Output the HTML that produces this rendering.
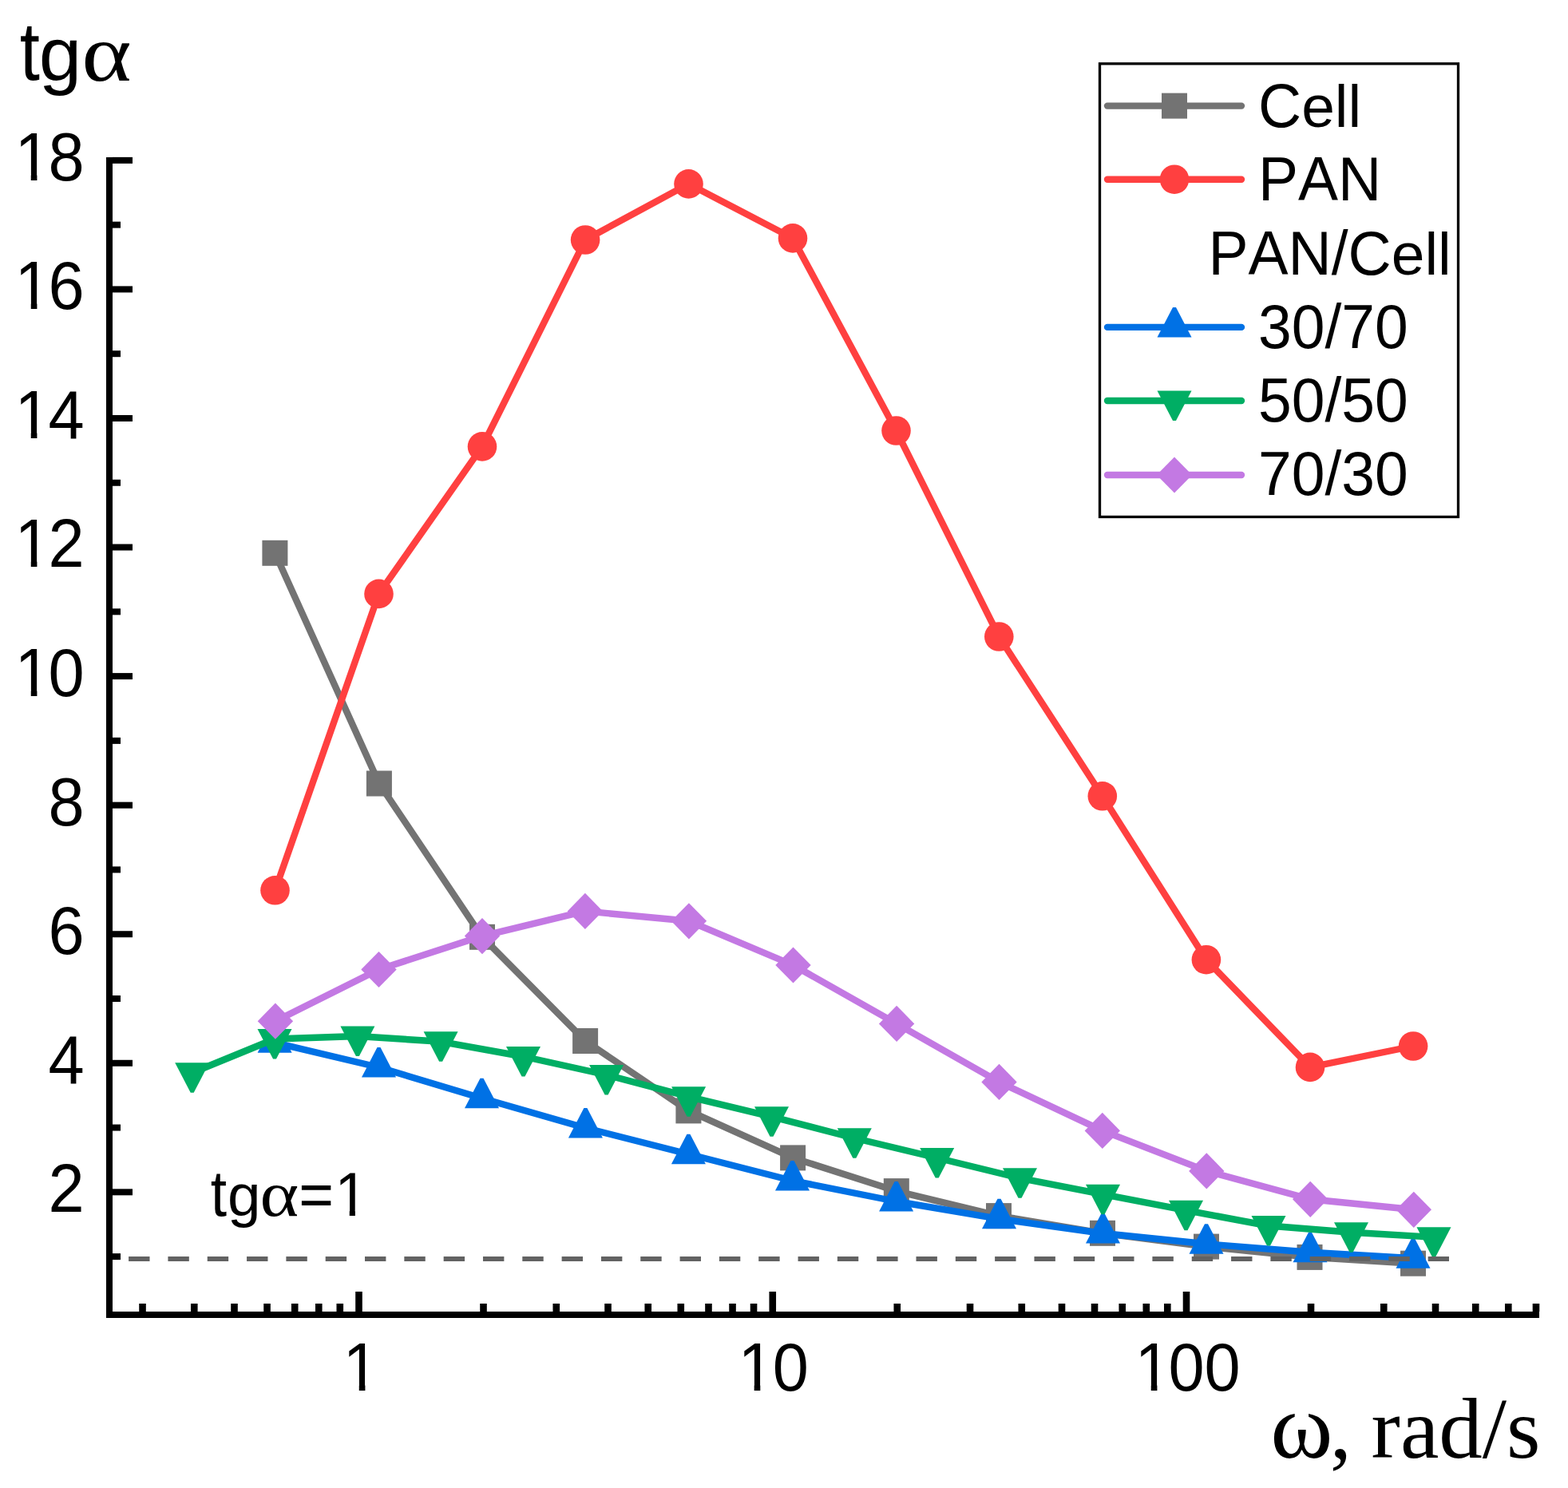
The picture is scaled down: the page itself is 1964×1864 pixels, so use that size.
<!DOCTYPE html>
<html><head><meta charset="utf-8"><title>tg alpha vs omega</title><style>html,body{margin:0;padding:0;background:#fff;overflow:hidden}svg{display:block}text{font-kerning:none;white-space:pre}</style></head><body>
<svg width="1964" height="1864" viewBox="0 0 1964 1864">
<rect width="1964" height="1864" fill="#fff"/>
<g id="cell"><polyline points="344.4,692.8 474.9,981.5 604.0,1173.8 733.1,1304.0 862.4,1391.4 993.1,1450.4 1122.8,1492.1 1251.0,1523.1 1381.0,1544.8 1511.0,1561.6 1640.5,1574.9 1770.0,1582.7" fill="none" stroke="#737373" stroke-width="8.4" stroke-linejoin="round" stroke-linecap="butt"/><rect x="328.4" y="676.8" width="32.0" height="32.0" fill="#737373"/><rect x="458.9" y="965.5" width="32.0" height="32.0" fill="#737373"/><rect x="588.0" y="1157.8" width="32.0" height="32.0" fill="#737373"/><rect x="717.1" y="1288.0" width="32.0" height="32.0" fill="#737373"/><rect x="846.4" y="1375.4" width="32.0" height="32.0" fill="#737373"/><rect x="977.1" y="1434.4" width="32.0" height="32.0" fill="#737373"/><rect x="1106.8" y="1476.1" width="32.0" height="32.0" fill="#737373"/><rect x="1235.0" y="1507.1" width="32.0" height="32.0" fill="#737373"/><rect x="1365.0" y="1528.8" width="32.0" height="32.0" fill="#737373"/><rect x="1495.0" y="1545.6" width="32.0" height="32.0" fill="#737373"/><rect x="1624.5" y="1558.9" width="32.0" height="32.0" fill="#737373"/><rect x="1754.0" y="1566.7" width="32.0" height="32.0" fill="#737373"/></g>
<g id="pan"><polyline points="344.5,1115.3 474.5,743.9 604.0,559.4 733.1,300.5 862.5,230.4 993.0,298.4 1122.5,539.5 1251.3,797.5 1380.8,997.3 1510.9,1202.2 1641.0,1336.9 1770.1,1310.5" fill="none" stroke="#FF4040" stroke-width="8.4" stroke-linejoin="round" stroke-linecap="butt"/><circle cx="344.5" cy="1115.3" r="18.3" fill="#FF4040"/><circle cx="474.5" cy="743.9" r="18.3" fill="#FF4040"/><circle cx="604.0" cy="559.4" r="18.3" fill="#FF4040"/><circle cx="733.1" cy="300.5" r="18.3" fill="#FF4040"/><circle cx="862.5" cy="230.4" r="18.3" fill="#FF4040"/><circle cx="993.0" cy="298.4" r="18.3" fill="#FF4040"/><circle cx="1122.5" cy="539.5" r="18.3" fill="#FF4040"/><circle cx="1251.3" cy="797.5" r="18.3" fill="#FF4040"/><circle cx="1380.8" cy="997.3" r="18.3" fill="#FF4040"/><circle cx="1510.9" cy="1202.2" r="18.3" fill="#FF4040"/><circle cx="1641.0" cy="1336.9" r="18.3" fill="#FF4040"/><circle cx="1770.1" cy="1310.5" r="18.3" fill="#FF4040"/></g>
<g id="s3070"><polyline points="344.1,1306.2 474.5,1337.0 603.5,1375.7 733.4,1413.0 862.4,1445.7 992.5,1479.0 1122.6,1505.0 1251.5,1526.8 1381.5,1545.0 1511.0,1558.3 1641.0,1568.8 1770.0,1576.3" fill="none" stroke="#0071E5" stroke-width="8.4" stroke-linejoin="round" stroke-linecap="butt"/><polygon points="342.1,1281.2 346.1,1281.2 365.6,1318.8 322.6,1318.8" fill="#0071E5"/><polygon points="472.5,1312.0 476.5,1312.0 496.0,1349.5 453.0,1349.5" fill="#0071E5"/><polygon points="601.5,1350.7 605.5,1350.7 625.0,1388.2 582.0,1388.2" fill="#0071E5"/><polygon points="731.4,1388.0 735.4,1388.0 754.9,1425.5 711.9,1425.5" fill="#0071E5"/><polygon points="860.4,1420.7 864.4,1420.7 883.9,1458.2 840.9,1458.2" fill="#0071E5"/><polygon points="990.5,1454.0 994.5,1454.0 1014.0,1491.5 971.0,1491.5" fill="#0071E5"/><polygon points="1120.6,1480.0 1124.6,1480.0 1144.1,1517.5 1101.1,1517.5" fill="#0071E5"/><polygon points="1249.5,1501.8 1253.5,1501.8 1273.0,1539.2 1230.0,1539.2" fill="#0071E5"/><polygon points="1379.5,1520.0 1383.5,1520.0 1403.0,1557.5 1360.0,1557.5" fill="#0071E5"/><polygon points="1509.0,1533.3 1513.0,1533.3 1532.5,1570.8 1489.5,1570.8" fill="#0071E5"/><polygon points="1639.0,1543.8 1643.0,1543.8 1662.5,1581.3 1619.5,1581.3" fill="#0071E5"/><polygon points="1768.0,1551.3 1772.0,1551.3 1791.5,1588.8 1748.5,1588.8" fill="#0071E5"/></g>
<g id="s5050"><polyline points="240.7,1343.8 344.0,1301.5 447.9,1298.0 552.1,1304.8 655.5,1323.5 759.6,1346.5 862.6,1373.8 966.5,1398.8 1070.3,1425.8 1173.7,1450.5 1277.5,1475.8 1381.5,1496.2 1485.5,1516.2 1589.0,1535.5 1692.5,1543.8 1796.0,1549.8" fill="none" stroke="#00AE64" stroke-width="8.4" stroke-linejoin="round" stroke-linecap="butt"/><polygon points="219.2,1331.2 262.2,1331.2 242.7,1368.8 238.7,1368.8" fill="#00AE64"/><polygon points="322.5,1289.0 365.5,1289.0 346.0,1326.5 342.0,1326.5" fill="#00AE64"/><polygon points="426.4,1285.5 469.4,1285.5 449.9,1323.0 445.9,1323.0" fill="#00AE64"/><polygon points="530.6,1292.2 573.6,1292.2 554.1,1329.8 550.1,1329.8" fill="#00AE64"/><polygon points="634.0,1311.0 677.0,1311.0 657.5,1348.5 653.5,1348.5" fill="#00AE64"/><polygon points="738.1,1334.0 781.1,1334.0 761.6,1371.5 757.6,1371.5" fill="#00AE64"/><polygon points="841.1,1361.3 884.1,1361.3 864.6,1398.8 860.6,1398.8" fill="#00AE64"/><polygon points="945.0,1386.2 988.0,1386.2 968.5,1423.8 964.5,1423.8" fill="#00AE64"/><polygon points="1048.8,1413.2 1091.8,1413.2 1072.3,1450.8 1068.3,1450.8" fill="#00AE64"/><polygon points="1152.2,1438.0 1195.2,1438.0 1175.7,1475.5 1171.7,1475.5" fill="#00AE64"/><polygon points="1256.0,1463.2 1299.0,1463.2 1279.5,1500.8 1275.5,1500.8" fill="#00AE64"/><polygon points="1360.0,1483.8 1403.0,1483.8 1383.5,1521.2 1379.5,1521.2" fill="#00AE64"/><polygon points="1464.0,1503.7 1507.0,1503.7 1487.5,1541.2 1483.5,1541.2" fill="#00AE64"/><polygon points="1567.5,1523.0 1610.5,1523.0 1591.0,1560.5 1587.0,1560.5" fill="#00AE64"/><polygon points="1671.0,1531.2 1714.0,1531.2 1694.5,1568.8 1690.5,1568.8" fill="#00AE64"/><polygon points="1774.5,1537.3 1817.5,1537.3 1798.0,1574.8 1794.0,1574.8" fill="#00AE64"/></g>
<g id="s7030"><polyline points="344.9,1279.2 474.5,1214.5 604.0,1172.6 732.9,1141.4 862.9,1153.8 993.5,1209.0 1123.1,1282.4 1251.5,1355.4 1380.8,1416.4 1511.3,1466.9 1641.2,1502.3 1770.8,1515.3" fill="none" stroke="#C379E3" stroke-width="8.4" stroke-linejoin="round" stroke-linecap="butt"/><polygon points="344.9,1256.6 367.1,1279.2 344.9,1301.8 322.7,1279.2" fill="#C379E3"/><polygon points="474.5,1191.9 496.7,1214.5 474.5,1237.1 452.3,1214.5" fill="#C379E3"/><polygon points="604.0,1150.0 626.2,1172.6 604.0,1195.2 581.8,1172.6" fill="#C379E3"/><polygon points="732.9,1118.8 755.1,1141.4 732.9,1164.0 710.7,1141.4" fill="#C379E3"/><polygon points="862.9,1131.2 885.1,1153.8 862.9,1176.4 840.7,1153.8" fill="#C379E3"/><polygon points="993.5,1186.4 1015.7,1209.0 993.5,1231.6 971.3,1209.0" fill="#C379E3"/><polygon points="1123.1,1259.8 1145.3,1282.4 1123.1,1305.0 1100.9,1282.4" fill="#C379E3"/><polygon points="1251.5,1332.8 1273.7,1355.4 1251.5,1378.0 1229.3,1355.4" fill="#C379E3"/><polygon points="1380.8,1393.8 1403.0,1416.4 1380.8,1439.0 1358.6,1416.4" fill="#C379E3"/><polygon points="1511.3,1444.3 1533.5,1466.9 1511.3,1489.5 1489.1,1466.9" fill="#C379E3"/><polygon points="1641.2,1479.7 1663.4,1502.3 1641.2,1524.9 1619.0,1502.3" fill="#C379E3"/><polygon points="1770.8,1492.7 1793.0,1515.3 1770.8,1537.9 1748.6,1515.3" fill="#C379E3"/></g>
<line x1="161.1" y1="1577" x2="1815" y2="1577" stroke="#626262" stroke-width="6" stroke-dasharray="26.4 22.92"/>
<g id="axes" fill="#000">
<rect x="133" y="197" width="8" height="1454"/>
<rect x="133" y="1643" width="1795" height="8"/>
<rect x="141" y="1570.12" width="10" height="8"/>
<rect x="141" y="1489.34" width="25" height="8"/>
<rect x="141" y="1408.56" width="10" height="8"/>
<rect x="141" y="1327.78" width="25" height="8"/>
<rect x="141" y="1247.00" width="10" height="8"/>
<rect x="141" y="1166.22" width="25" height="8"/>
<rect x="141" y="1085.44" width="10" height="8"/>
<rect x="141" y="1004.66" width="25" height="8"/>
<rect x="141" y="923.88" width="10" height="8"/>
<rect x="141" y="843.10" width="25" height="8"/>
<rect x="141" y="762.32" width="10" height="8"/>
<rect x="141" y="681.54" width="25" height="8"/>
<rect x="141" y="600.76" width="10" height="8"/>
<rect x="141" y="519.98" width="25" height="8"/>
<rect x="141" y="439.20" width="10" height="8"/>
<rect x="141" y="358.42" width="25" height="8"/>
<rect x="141" y="277.64" width="10" height="8"/>
<rect x="141" y="196.86" width="25" height="8"/>
<rect x="174.22" y="1633" width="8.6" height="10"/>
<rect x="238.97" y="1633" width="8.6" height="10"/>
<rect x="289.19" y="1633" width="8.6" height="10"/>
<rect x="330.23" y="1633" width="8.6" height="10"/>
<rect x="364.92" y="1633" width="8.6" height="10"/>
<rect x="394.98" y="1633" width="8.6" height="10"/>
<rect x="421.49" y="1633" width="8.6" height="10"/>
<rect x="445.20" y="1618" width="8.6" height="25"/>
<rect x="601.21" y="1633" width="8.6" height="10"/>
<rect x="692.47" y="1633" width="8.6" height="10"/>
<rect x="757.22" y="1633" width="8.6" height="10"/>
<rect x="807.44" y="1633" width="8.6" height="10"/>
<rect x="848.48" y="1633" width="8.6" height="10"/>
<rect x="883.17" y="1633" width="8.6" height="10"/>
<rect x="913.23" y="1633" width="8.6" height="10"/>
<rect x="939.74" y="1633" width="8.6" height="10"/>
<rect x="963.45" y="1618" width="8.6" height="25"/>
<rect x="1119.46" y="1633" width="8.6" height="10"/>
<rect x="1210.72" y="1633" width="8.6" height="10"/>
<rect x="1275.47" y="1633" width="8.6" height="10"/>
<rect x="1325.69" y="1633" width="8.6" height="10"/>
<rect x="1366.73" y="1633" width="8.6" height="10"/>
<rect x="1401.42" y="1633" width="8.6" height="10"/>
<rect x="1431.48" y="1633" width="8.6" height="10"/>
<rect x="1457.99" y="1633" width="8.6" height="10"/>
<rect x="1481.70" y="1618" width="8.6" height="25"/>
<rect x="1637.71" y="1633" width="8.6" height="10"/>
<rect x="1728.97" y="1633" width="8.6" height="10"/>
<rect x="1793.72" y="1633" width="8.6" height="10"/>
<rect x="1843.94" y="1633" width="8.6" height="10"/>
<rect x="1884.98" y="1633" width="8.6" height="10"/>
<rect x="1919.67" y="1633" width="8.6" height="10"/>
</g>
<g id="yticklabels">
<g transform="translate(60.60 1518.24) scale(0.9541 1)"><text x="0" y="0" clip-path="url(#c1)" font-family='"Liberation Sans", Arial, sans-serif' font-size="85.00" fill="#000">2</text></g>
<g transform="translate(60.60 1356.68) scale(0.9541 1)"><text x="0" y="0" clip-path="url(#c2)" font-family='"Liberation Sans", Arial, sans-serif' font-size="85.00" fill="#000">4</text></g>
<g transform="translate(60.60 1195.12) scale(0.9541 1)"><text x="0" y="0" clip-path="url(#c3)" font-family='"Liberation Sans", Arial, sans-serif' font-size="85.00" fill="#000">6</text></g>
<g transform="translate(60.60 1033.56) scale(0.9541 1)"><text x="0" y="0" clip-path="url(#c4)" font-family='"Liberation Sans", Arial, sans-serif' font-size="85.00" fill="#000">8</text></g>
<g transform="translate(15.49 872.00) scale(0.9541 1)"><text x="0" y="0" clip-path="url(#c5)" font-family='"Liberation Sans", Arial, sans-serif' font-size="85.00" fill="#000"><tspan dx="3.26">1</tspan><tspan dx="-3.26">0</tspan></text></g>
<g transform="translate(15.49 710.44) scale(0.9541 1)"><text x="0" y="0" clip-path="url(#c6)" font-family='"Liberation Sans", Arial, sans-serif' font-size="85.00" fill="#000"><tspan dx="3.26">1</tspan><tspan dx="-3.26">2</tspan></text></g>
<g transform="translate(15.49 548.88) scale(0.9541 1)"><text x="0" y="0" clip-path="url(#c7)" font-family='"Liberation Sans", Arial, sans-serif' font-size="85.00" fill="#000"><tspan dx="3.26">1</tspan><tspan dx="-3.26">4</tspan></text></g>
<g transform="translate(15.49 387.32) scale(0.9541 1)"><text x="0" y="0" clip-path="url(#c8)" font-family='"Liberation Sans", Arial, sans-serif' font-size="85.00" fill="#000"><tspan dx="3.26">1</tspan><tspan dx="-3.26">6</tspan></text></g>
<g transform="translate(15.49 225.76) scale(0.9541 1)"><text x="0" y="0" clip-path="url(#c9)" font-family='"Liberation Sans", Arial, sans-serif' font-size="85.00" fill="#000"><tspan dx="3.26">1</tspan><tspan dx="-3.26">8</tspan></text></g>
</g><g id="xticklabels">
<g transform="translate(426.95 1742.00) scale(0.9541 1)"><text x="0" y="0" clip-path="url(#c10)" font-family='"Liberation Sans", Arial, sans-serif' font-size="85.00" fill="#000"><tspan dx="2.79">1</tspan></text></g>
<g transform="translate(922.65 1742.00) scale(0.9541 1)"><text x="0" y="0" clip-path="url(#c11)" font-family='"Liberation Sans", Arial, sans-serif' font-size="85.00" fill="#000"><tspan dx="1.95">1</tspan><tspan dx="-1.95">0</tspan></text></g>
<g transform="translate(1418.34 1742.00) scale(0.9541 1)"><text x="0" y="0" clip-path="url(#c12)" font-family='"Liberation Sans", Arial, sans-serif' font-size="85.00" fill="#000"><tspan dx="3.42">1</tspan><tspan dx="-3.42">0</tspan>0</text></g>
</g>
<text id="ytitle" fill="#000"><tspan x="24.63" y="100.06" font-family='"Liberation Sans", Arial, sans-serif' font-size="103.72" textLength="25.13" lengthAdjust="spacingAndGlyphs">t</tspan><tspan x="48.67" y="100.06" font-family='"Liberation Sans", Arial, sans-serif' font-size="95.14" textLength="53.43" lengthAdjust="spacingAndGlyphs">g</tspan><tspan x="102.16" y="100.51" font-family='"Liberation Serif", "Times New Roman", serif' font-size="101.15" textLength="62.41" lengthAdjust="spacingAndGlyphs">α</tspan></text>
<text id="xtitle" fill="#000"><tspan x="1591.35" y="1825.86" font-family='"Liberation Serif", "Times New Roman", serif' font-size="117.24" textLength="78.29" lengthAdjust="spacingAndGlyphs">ω</tspan><tspan x="1665.85" y="1825.6" font-family='"Liberation Serif", "Times New Roman", serif' font-size="109">, </tspan><tspan x="1717.62" y="1825.60" font-family='"Liberation Serif", "Times New Roman", serif' font-size="109.00">rad/s</tspan></text>
<text id="tg1" fill="#000" clip-path="url(#c13)"><tspan x="263.79" y="1523.30" font-family='"Liberation Sans", Arial, sans-serif' font-size="81.05" textLength="20.34" lengthAdjust="spacingAndGlyphs">t</tspan><tspan x="284.96" y="1523.30" font-family='"Liberation Sans", Arial, sans-serif' font-size="74.99" textLength="41.55" lengthAdjust="spacingAndGlyphs">g</tspan><tspan x="325.46" y="1523.21" font-family='"Liberation Serif", "Times New Roman", serif' font-size="81.21" textLength="48.73" lengthAdjust="spacingAndGlyphs">α</tspan><tspan x="374.34" y="1523.30" font-family='"Liberation Sans", Arial, sans-serif' font-size="78.00" textLength="43.80" lengthAdjust="spacingAndGlyphs">=</tspan><tspan x="419.14" y="1523.30" font-family='"Liberation Sans", Arial, sans-serif' font-size="78.00" textLength="41.71" lengthAdjust="spacingAndGlyphs">1</tspan></text>
<g id="legend">
<rect x="1377.5" y="79.8" width="449" height="567.7" fill="none" stroke="#000" stroke-width="3.3"/>
<line x1="1387" y1="132.6" x2="1555" y2="132.6" stroke="#737373" stroke-width="8.4" stroke-linecap="round"/>
<rect x="1455.0" y="116.6" width="32.0" height="32.0" fill="#737373"/>
<line x1="1387" y1="224.7" x2="1555" y2="224.7" stroke="#FF4040" stroke-width="8.4" stroke-linecap="round"/>
<circle cx="1471.0" cy="224.7" r="18.3" fill="#FF4040"/>
<line x1="1387" y1="409.9" x2="1555" y2="409.9" stroke="#0071E5" stroke-width="8.4" stroke-linecap="round"/>
<polygon points="1469.0,384.9 1473.0,384.9 1492.5,422.4 1449.5,422.4" fill="#0071E5"/>
<line x1="1387" y1="502.0" x2="1555" y2="502.0" stroke="#00AE64" stroke-width="8.4" stroke-linecap="round"/>
<polygon points="1449.5,489.5 1492.5,489.5 1473.0,527.0 1469.0,527.0" fill="#00AE64"/>
<line x1="1387" y1="595.0" x2="1555" y2="595.0" stroke="#C379E3" stroke-width="8.4" stroke-linecap="round"/>
<polygon points="1471.0,572.4 1493.2,595.0 1471.0,617.6 1448.8,595.0" fill="#C379E3"/>
<text font-family='"Liberation Sans", Arial, sans-serif' fill="#000"><tspan x="1576.00" y="158.80" font-size="78.09" textLength="54.16" lengthAdjust="spacingAndGlyphs">C</tspan><tspan x="1630.16" y="158.80" font-size="74.09" textLength="75.04" lengthAdjust="spacingAndGlyphs">ell</tspan></text>
<text font-family='"Liberation Sans", Arial, sans-serif' fill="#000"><tspan x="1576.00" y="250.80" font-size="78.09" textLength="154.21" lengthAdjust="spacingAndGlyphs">PAN</tspan></text>
<text font-family='"Liberation Sans", Arial, sans-serif' fill="#000"><tspan x="1576.00" y="435.90" font-size="78.09" textLength="187.68" lengthAdjust="spacingAndGlyphs">30/70</tspan></text>
<text font-family='"Liberation Sans", Arial, sans-serif' fill="#000"><tspan x="1576.00" y="527.90" font-size="78.09" textLength="187.68" lengthAdjust="spacingAndGlyphs">50/50</tspan></text>
<text font-family='"Liberation Sans", Arial, sans-serif' fill="#000"><tspan x="1576.00" y="620.20" font-size="78.09" textLength="187.68" lengthAdjust="spacingAndGlyphs">70/30</tspan></text>
<text font-family='"Liberation Sans", Arial, sans-serif' fill="#000"><tspan x="1513.50" y="343.80" font-size="78.09" textLength="229.21" lengthAdjust="spacingAndGlyphs">PAN/C</tspan><tspan x="1742.71" y="343.80" font-size="74.09" textLength="75.04" lengthAdjust="spacingAndGlyphs">ell</tspan></text>
</g>
<defs><clipPath id="c1"><rect x="-50" y="-127.50" width="147.27" height="119.95"/><rect x="0.00" y="-10.35" width="47.27" height="91.35"/></clipPath><clipPath id="c2"><rect x="-50" y="-127.50" width="147.27" height="119.95"/><rect x="0.00" y="-10.35" width="47.27" height="91.35"/></clipPath><clipPath id="c3"><rect x="-50" y="-127.50" width="147.27" height="119.95"/><rect x="0.00" y="-10.35" width="47.27" height="91.35"/></clipPath><clipPath id="c4"><rect x="-50" y="-127.50" width="147.27" height="119.95"/><rect x="0.00" y="-10.35" width="47.27" height="91.35"/></clipPath><clipPath id="c5"><rect x="-50" y="-127.50" width="194.55" height="119.95"/><rect x="24.39" y="-10.35" width="8.01" height="91.35"/><rect x="47.27" y="-10.35" width="47.27" height="91.35"/></clipPath><clipPath id="c6"><rect x="-50" y="-127.50" width="194.55" height="119.95"/><rect x="24.39" y="-10.35" width="8.01" height="91.35"/><rect x="47.27" y="-10.35" width="47.27" height="91.35"/></clipPath><clipPath id="c7"><rect x="-50" y="-127.50" width="194.55" height="119.95"/><rect x="24.39" y="-10.35" width="8.01" height="91.35"/><rect x="47.27" y="-10.35" width="47.27" height="91.35"/></clipPath><clipPath id="c8"><rect x="-50" y="-127.50" width="194.55" height="119.95"/><rect x="24.39" y="-10.35" width="8.01" height="91.35"/><rect x="47.27" y="-10.35" width="47.27" height="91.35"/></clipPath><clipPath id="c9"><rect x="-50" y="-127.50" width="194.55" height="119.95"/><rect x="24.39" y="-10.35" width="8.01" height="91.35"/><rect x="47.27" y="-10.35" width="47.27" height="91.35"/></clipPath><clipPath id="c10"><rect x="-50" y="-127.50" width="147.27" height="119.95"/><rect x="23.91" y="-10.35" width="8.01" height="91.35"/></clipPath><clipPath id="c11"><rect x="-50" y="-127.50" width="194.55" height="119.95"/><rect x="23.07" y="-10.35" width="8.01" height="91.35"/><rect x="47.27" y="-10.35" width="47.27" height="91.35"/></clipPath><clipPath id="c12"><rect x="-50" y="-127.50" width="241.82" height="119.95"/><rect x="24.54" y="-10.35" width="8.01" height="91.35"/><rect x="47.27" y="-10.35" width="47.27" height="91.35"/><rect x="94.55" y="-10.35" width="47.27" height="91.35"/></clipPath><clipPath id="c13"><rect x="250" y="1440" width="250" height="76.27"/><rect x="250" y="1513.47" width="168.14" height="40"/><rect x="437.75" y="1513.47" width="7.13" height="40"/></clipPath></defs>
</svg></body></html>
